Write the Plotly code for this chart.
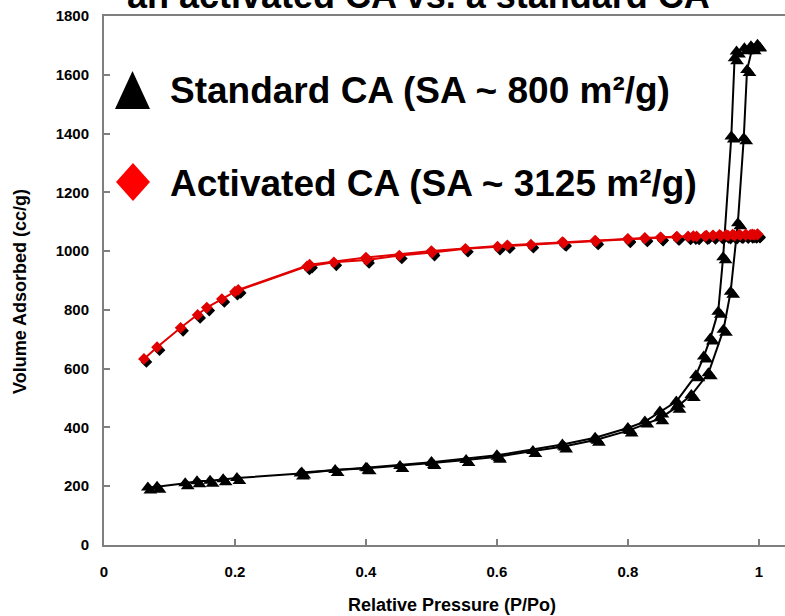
import plotly.graph_objects as go

# ---------------- data ----------------
std_ads_x = [0.067, 0.081, 0.124, 0.142, 0.162, 0.182, 0.203, 0.300, 0.353, 0.402, 0.452, 0.501,
             0.553, 0.601, 0.655, 0.702, 0.752, 0.802, 0.849, 0.875, 0.897, 0.923, 0.946,
             0.957, 0.968, 0.977, 0.982, 0.990, 0.998]
std_ads_y = [196, 198, 210, 217, 219, 224, 228, 243, 255, 261, 269, 279,
             289, 300, 320, 335, 358, 390, 431, 470, 510, 584, 732,
             862, 1095, 1384, 1616, 1690, 1700]
std_des_x = [0.998, 0.988, 0.978, 0.966, 0.963, 0.958, 0.9455, 0.938, 0.926, 0.916, 0.904,
             0.874, 0.849, 0.826, 0.800, 0.750, 0.700, 0.600, 0.500, 0.400, 0.302]
std_des_y = [1702, 1697, 1690, 1679, 1656, 1390, 979, 794, 703, 641, 578,
             488, 454, 420, 398, 365, 342, 305, 282, 263, 247]

act_ads_x = [0.061, 0.081, 0.117, 0.143, 0.157, 0.180, 0.200, 0.310, 0.351, 0.401, 0.451, 0.501,
             0.552, 0.601, 0.652, 0.702, 0.751, 0.800, 0.826, 0.850, 0.874, 0.892, 0.905,
             0.918, 0.930, 0.942, 0.953, 0.963, 0.972, 0.980, 0.987, 0.993, 0.998]
act_ads_y = [633, 673, 739, 783, 808, 837, 862, 948, 962, 970, 985, 995,
             1008, 1015, 1022, 1028, 1033, 1040, 1043, 1046, 1048, 1050, 1050,
             1051, 1052, 1052, 1053, 1053, 1054, 1054, 1055, 1055, 1056]
act_des_x = [0.998, 0.990, 0.980, 0.970, 0.960, 0.950, 0.940, 0.930, 0.920, 0.900, 0.875,
             0.850, 0.826, 0.800, 0.750, 0.700, 0.616, 0.500, 0.400, 0.314, 0.205]
act_des_y = [1058, 1057, 1057, 1056, 1056, 1055, 1055, 1054, 1053, 1051, 1049,
             1047, 1045, 1042, 1036, 1031, 1020, 1000, 978, 954, 868]

x_ticks = [0, 0.2, 0.4, 0.6, 0.8, 1.0]
x_tick_text = ["0", "0.2", "0.4", "0.6", "0.8", "1"]
y_ticks = [0, 200, 400, 600, 800, 1000, 1200, 1400, 1600, 1800]

legend_std = "Standard CA (SA ~ 800 m²/g)"
legend_act = "Activated CA (SA ~ 3125 m²/g)"
title_text = "an activated CA vs. a standard CA"
x_title = "Relative Pressure (P/Po)"
y_title = "Volume Adsorbed (cc/g)"

# ---------------- geometry ----------------
W, H = 785, 616
ML, MR, MT, MB = 104, 0, 16, 71
PW, PH = W - ML - MR, H - MT - MB
XR = [0, 1.04]
YR = [0, 1800]
dx = 2.5 * (XR[1] - XR[0]) / PW
dy = 3.0 * (YR[1] - YR[0]) / PH

FONT = "Liberation Sans, Arial, sans-serif"
RED = "#e00000"
BLACK = "#000000"
AX = "#7f7f7f"

fig = go.Figure()

series = [
    (std_ads_x, std_ads_y, BLACK, "triangle-up", 12),
    (std_des_x, std_des_y, BLACK, "triangle-up", 12),
    (act_ads_x, act_ads_y, RED, "diamond", 9),
    (act_des_x, act_des_y, RED, "diamond", 9),
]

# shadows (base axes, shifted)
for xs, ys, col, sym, sz in series:
    fig.add_trace(go.Scatter(x=xs, y=ys, mode="markers", xaxis="x", yaxis="y",
                             marker=dict(symbol=sym, size=sz, color="black", line=dict(width=0)),
                             showlegend=False, hoverinfo="skip"))
# main series (overlay axes)
for xs, ys, col, sym, sz in series:
    fig.add_trace(go.Scatter(x=xs, y=ys, mode="lines+markers", xaxis="x2", yaxis="y2",
                             line=dict(color=col, width=2),
                             marker=dict(symbol=sym, size=sz, color=col, line=dict(width=0)),
                             showlegend=False))

tickfont = dict(family=FONT, size=15, color="black", weight="bold")

fig.update_layout(
    width=W, height=H,
    margin=dict(l=ML, r=MR, t=MT, b=MB, pad=0),
    paper_bgcolor="white", plot_bgcolor="white",
    showlegend=False,
    xaxis=dict(range=[XR[0] - dx, XR[1] - dx], visible=False, fixedrange=True),
    yaxis=dict(range=[YR[0] + dy, YR[1] + dy], visible=False, fixedrange=True),
    xaxis2=dict(range=XR, overlaying="x", side="bottom", anchor="y2",
                tickvals=x_ticks, ticktext=x_tick_text, ticks="inside", ticklen=6,
                tickcolor=AX, tickwidth=2, showline=True, linecolor=AX, linewidth=2,
                mirror=True, showgrid=False, zeroline=False, tickfont=tickfont,
                ticklabelstandoff=12),
    yaxis2=dict(range=YR, overlaying="y", side="left", anchor="x2",
                tickvals=y_ticks, ticks="inside", ticklen=6, tickcolor=AX, tickwidth=2,
                showline=True, linecolor=AX, linewidth=2, showgrid=False, zeroline=False,
                tickfont=tickfont, ticklabelstandoff=10),
)

def px2paper_x(px):
    return (px - ML) / PW

def px2paper_y(py):
    return (H - MB - py) / PH

# legend glyphs
tri = dict(x0=115, x1=150, y0=71, y1=109)
fig.add_shape(type="path", xref="paper", yref="paper",
              path=(f"M {px2paper_x(tri['x0'])},{px2paper_y(tri['y1'])} "
                    f"L {px2paper_x(tri['x1'])},{px2paper_y(tri['y1'])} "
                    f"L {px2paper_x((tri['x0'] + tri['x1']) / 2)},{px2paper_y(tri['y0'])} Z"),
              fillcolor="black", line=dict(width=0))
dia = dict(x0=116, x1=150, y0=163, y1=201)
cxd, cyd = (dia['x0'] + dia['x1']) / 2, (dia['y0'] + dia['y1']) / 2
fig.add_shape(type="path", xref="paper", yref="paper",
              path=(f"M {px2paper_x(dia['x0'])},{px2paper_y(cyd)} "
                    f"L {px2paper_x(cxd)},{px2paper_y(dia['y0'])} "
                    f"L {px2paper_x(dia['x1'])},{px2paper_y(cyd)} "
                    f"L {px2paper_x(cxd)},{px2paper_y(dia['y1'])} Z"),
              fillcolor="#ff0000", line=dict(width=0))

legfont = dict(family=FONT, size=37, color="black", weight="bold")
fig.add_annotation(text=legend_std, xref="paper", yref="paper", x=px2paper_x(168),
                   y=px2paper_y(90), xanchor="left", yanchor="middle", showarrow=False,
                   font=legfont)
fig.add_annotation(text=legend_act, xref="paper", yref="paper", x=px2paper_x(168),
                   y=px2paper_y(183), xanchor="left", yanchor="middle", showarrow=False,
                   font=legfont)

# titles
fig.add_annotation(text=title_text, xref="paper", yref="paper", x=px2paper_x(418),
                   y=px2paper_y(-5), xanchor="center", yanchor="middle", showarrow=False,
                   font=dict(family=FONT, size=36, color="black", weight="bold"))
fig.add_annotation(text=x_title, xref="paper", yref="paper", x=px2paper_x(452),
                   y=px2paper_y(605), xanchor="center", yanchor="middle", showarrow=False,
                   font=dict(family=FONT, size=18, color="black", weight="bold"))
fig.add_annotation(text=y_title, xref="paper", yref="paper", x=px2paper_x(20),
                   y=px2paper_y(292), xanchor="center", yanchor="middle", showarrow=False,
                   textangle=-90,
                   font=dict(family=FONT, size=18, color="black", weight="bold"))

fig.write_html("out.html", config={"displayModeBar": False},
               post_script="document.body.style.margin='0';document.body.style.padding='0';")
